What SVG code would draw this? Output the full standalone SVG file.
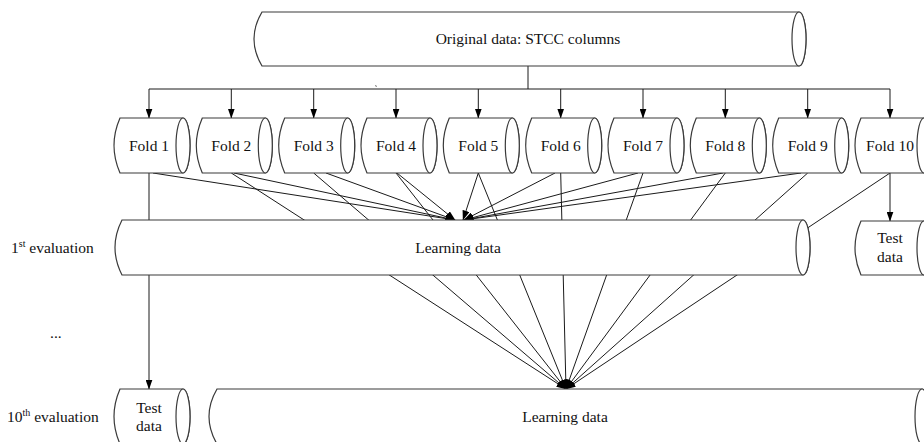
<svg xmlns="http://www.w3.org/2000/svg" width="924" height="442" viewBox="0 0 924 442">
<style>
  .shape { fill: #ffffff; stroke: #3a3a3a; stroke-width: 1.2; }
  .ln { fill: none; stroke: #1a1a1a; stroke-width: 1; }
  .arr { marker-end: url(#ah); }
  text { font-family: "Liberation Serif", "Times New Roman", serif; font-size: 15.5px; fill: #111; }
  .c { text-anchor: middle; }
</style>
<defs>
  <marker id="ah" markerUnits="userSpaceOnUse" markerWidth="10" markerHeight="7" refX="9.5" refY="3.5" orient="auto">
    <path d="M0,0 L10,3.5 L0,7 Z" fill="#000"/>
  </marker>
  <g id="fold">
    <path class="shape" d="M-29,0 H34 A7,27.5 0 0 1 34,55 H-29 Q-41,27.5 -29,0 Z"/>
    <ellipse class="shape" cx="34" cy="27.5" rx="7" ry="27.5"/>
  </g>
</defs>
<rect width="924" height="442" fill="#ffffff"/>

<g id="connectors">
  <!-- trunk and bus -->
  <line class="ln" x1="528" y1="66" x2="528" y2="89"/>
  <line class="ln" x1="149" y1="89" x2="890" y2="89"/>
  <line class="ln arr" x1="149" y1="89" x2="149" y2="118"/>
  <line class="ln arr" x1="231.3" y1="89" x2="231.3" y2="118"/>
  <line class="ln arr" x1="313.7" y1="89" x2="313.7" y2="118"/>
  <line class="ln arr" x1="396" y1="89" x2="396" y2="118"/>
  <line class="ln arr" x1="478.3" y1="89" x2="478.3" y2="118"/>
  <line class="ln arr" x1="560.7" y1="89" x2="560.7" y2="118"/>
  <line class="ln arr" x1="643" y1="89" x2="643" y2="118"/>
  <line class="ln arr" x1="725.3" y1="89" x2="725.3" y2="118"/>
  <line class="ln arr" x1="807.7" y1="89" x2="807.7" y2="118"/>
  <line class="ln arr" x1="890" y1="89" x2="890" y2="118"/>
  <!-- 1st evaluation: folds 1-9 to learning data -->
  <line class="ln arr" x1="153" y1="173" x2="455" y2="220"/>
  <line class="ln arr" x1="234" y1="173" x2="455" y2="220"/>
  <line class="ln arr" x1="326" y1="173" x2="455" y2="220"/>
  <line class="ln arr" x1="397" y1="173" x2="455" y2="220"/>
  <line class="ln arr" x1="478.3" y1="173" x2="463" y2="220"/>
  <line class="ln arr" x1="555" y1="173" x2="464" y2="220"/>
  <line class="ln arr" x1="638" y1="173" x2="464" y2="220"/>
  <line class="ln arr" x1="723" y1="173" x2="464" y2="220"/>
  <line class="ln arr" x1="801" y1="173" x2="464" y2="220"/>
  <!-- 1st evaluation: fold 10 to test data -->
  <line class="ln arr" x1="890" y1="173" x2="890" y2="221"/>
  <!-- 10th evaluation: fold 1 to test data -->
  <line class="ln arr" x1="149" y1="173" x2="149" y2="389"/>
  <!-- 10th evaluation: folds 2-10 to learning data -->
  <line class="ln arr" x1="231.3" y1="173" x2="566" y2="389"/>
  <line class="ln arr" x1="313.7" y1="173" x2="566" y2="389"/>
  <line class="ln arr" x1="396" y1="173" x2="566" y2="389"/>
  <line class="ln arr" x1="478.3" y1="173" x2="566" y2="389"/>
  <line class="ln arr" x1="560.7" y1="173" x2="566" y2="389"/>
  <line class="ln arr" x1="643" y1="173" x2="566" y2="389"/>
  <line class="ln arr" x1="725.3" y1="173" x2="566" y2="389"/>
  <line class="ln arr" x1="807.7" y1="173" x2="566" y2="389"/>
  <line class="ln arr" x1="890" y1="173" x2="566" y2="389"/>
  <line x1="375.6" y1="85" x2="376.4" y2="87" stroke="#777" stroke-width="1"/>
</g>

<g id="original">
  <path class="shape" d="M262,12 H799 A7,27 0 0 1 799,66 H262 Q246,39 262,12 Z"/>
  <ellipse class="shape" cx="799" cy="39" rx="7" ry="27"/>
  <text class="c" x="528" y="44">Original data: STCC columns</text>
</g>

<g id="fold1" transform="translate(149,118)"><use href="#fold"/><text class="c" x="0" y="33">Fold 1</text></g>
<g id="fold2" transform="translate(231.3,118)"><use href="#fold"/><text class="c" x="0" y="33">Fold 2</text></g>
<g id="fold3" transform="translate(313.7,118)"><use href="#fold"/><text class="c" x="0" y="33">Fold 3</text></g>
<g id="fold4" transform="translate(396,118)"><use href="#fold"/><text class="c" x="0" y="33">Fold 4</text></g>
<g id="fold5" transform="translate(478.3,118)"><use href="#fold"/><text class="c" x="0" y="33">Fold 5</text></g>
<g id="fold6" transform="translate(560.7,118)"><use href="#fold"/><text class="c" x="0" y="33">Fold 6</text></g>
<g id="fold7" transform="translate(643,118)"><use href="#fold"/><text class="c" x="0" y="33">Fold 7</text></g>
<g id="fold8" transform="translate(725.3,118)"><use href="#fold"/><text class="c" x="0" y="33">Fold 8</text></g>
<g id="fold9" transform="translate(807.7,118)"><use href="#fold"/><text class="c" x="0" y="33">Fold 9</text></g>
<g id="fold10" transform="translate(890,118)"><use href="#fold"/><text class="c" x="0" y="33">Fold 10</text></g>

<g id="learning1">
  <path class="shape" d="M122,220 H803 A7,27.5 0 0 1 803,275 H122 Q108,247.5 122,220 Z"/>
  <ellipse class="shape" cx="803" cy="247.5" rx="7" ry="27.5"/>
  <text class="c" x="458" y="253">Learning data</text>
</g>

<g id="test1" transform="translate(890,221)">
  <path class="shape" d="M-29,0 H34 A7,27 0 0 1 34,54 H-29 Q-41,27 -29,0 Z"/>
  <ellipse class="shape" cx="34" cy="27" rx="7" ry="27"/>
  <text class="c" x="0" y="22">Test</text>
  <text class="c" x="0" y="41">data</text>
</g>

<g id="test10" transform="translate(149,389)">
  <use href="#fold"/>
  <text class="c" x="0" y="24">Test</text>
  <text class="c" x="0" y="42">data</text>
</g>

<g id="learning10">
  <path class="shape" d="M217,389 H922 A7,27.5 0 0 1 922,444 H217 Q201,416.5 217,389 Z"/>
  <ellipse class="shape" cx="922" cy="416.5" rx="7" ry="27.5"/>
  <text class="c" x="565" y="422">Learning data</text>
</g>

<g id="labels">
  <text x="11" y="253">1<tspan font-size="10" dy="-6">st</tspan><tspan dy="6"> evaluation</tspan></text>
  <text x="50" y="338" font-size="11">...</text>
  <text x="7" y="422">10<tspan font-size="10" dy="-6">th</tspan><tspan dy="6"> evaluation</tspan></text>
</g>
</svg>
